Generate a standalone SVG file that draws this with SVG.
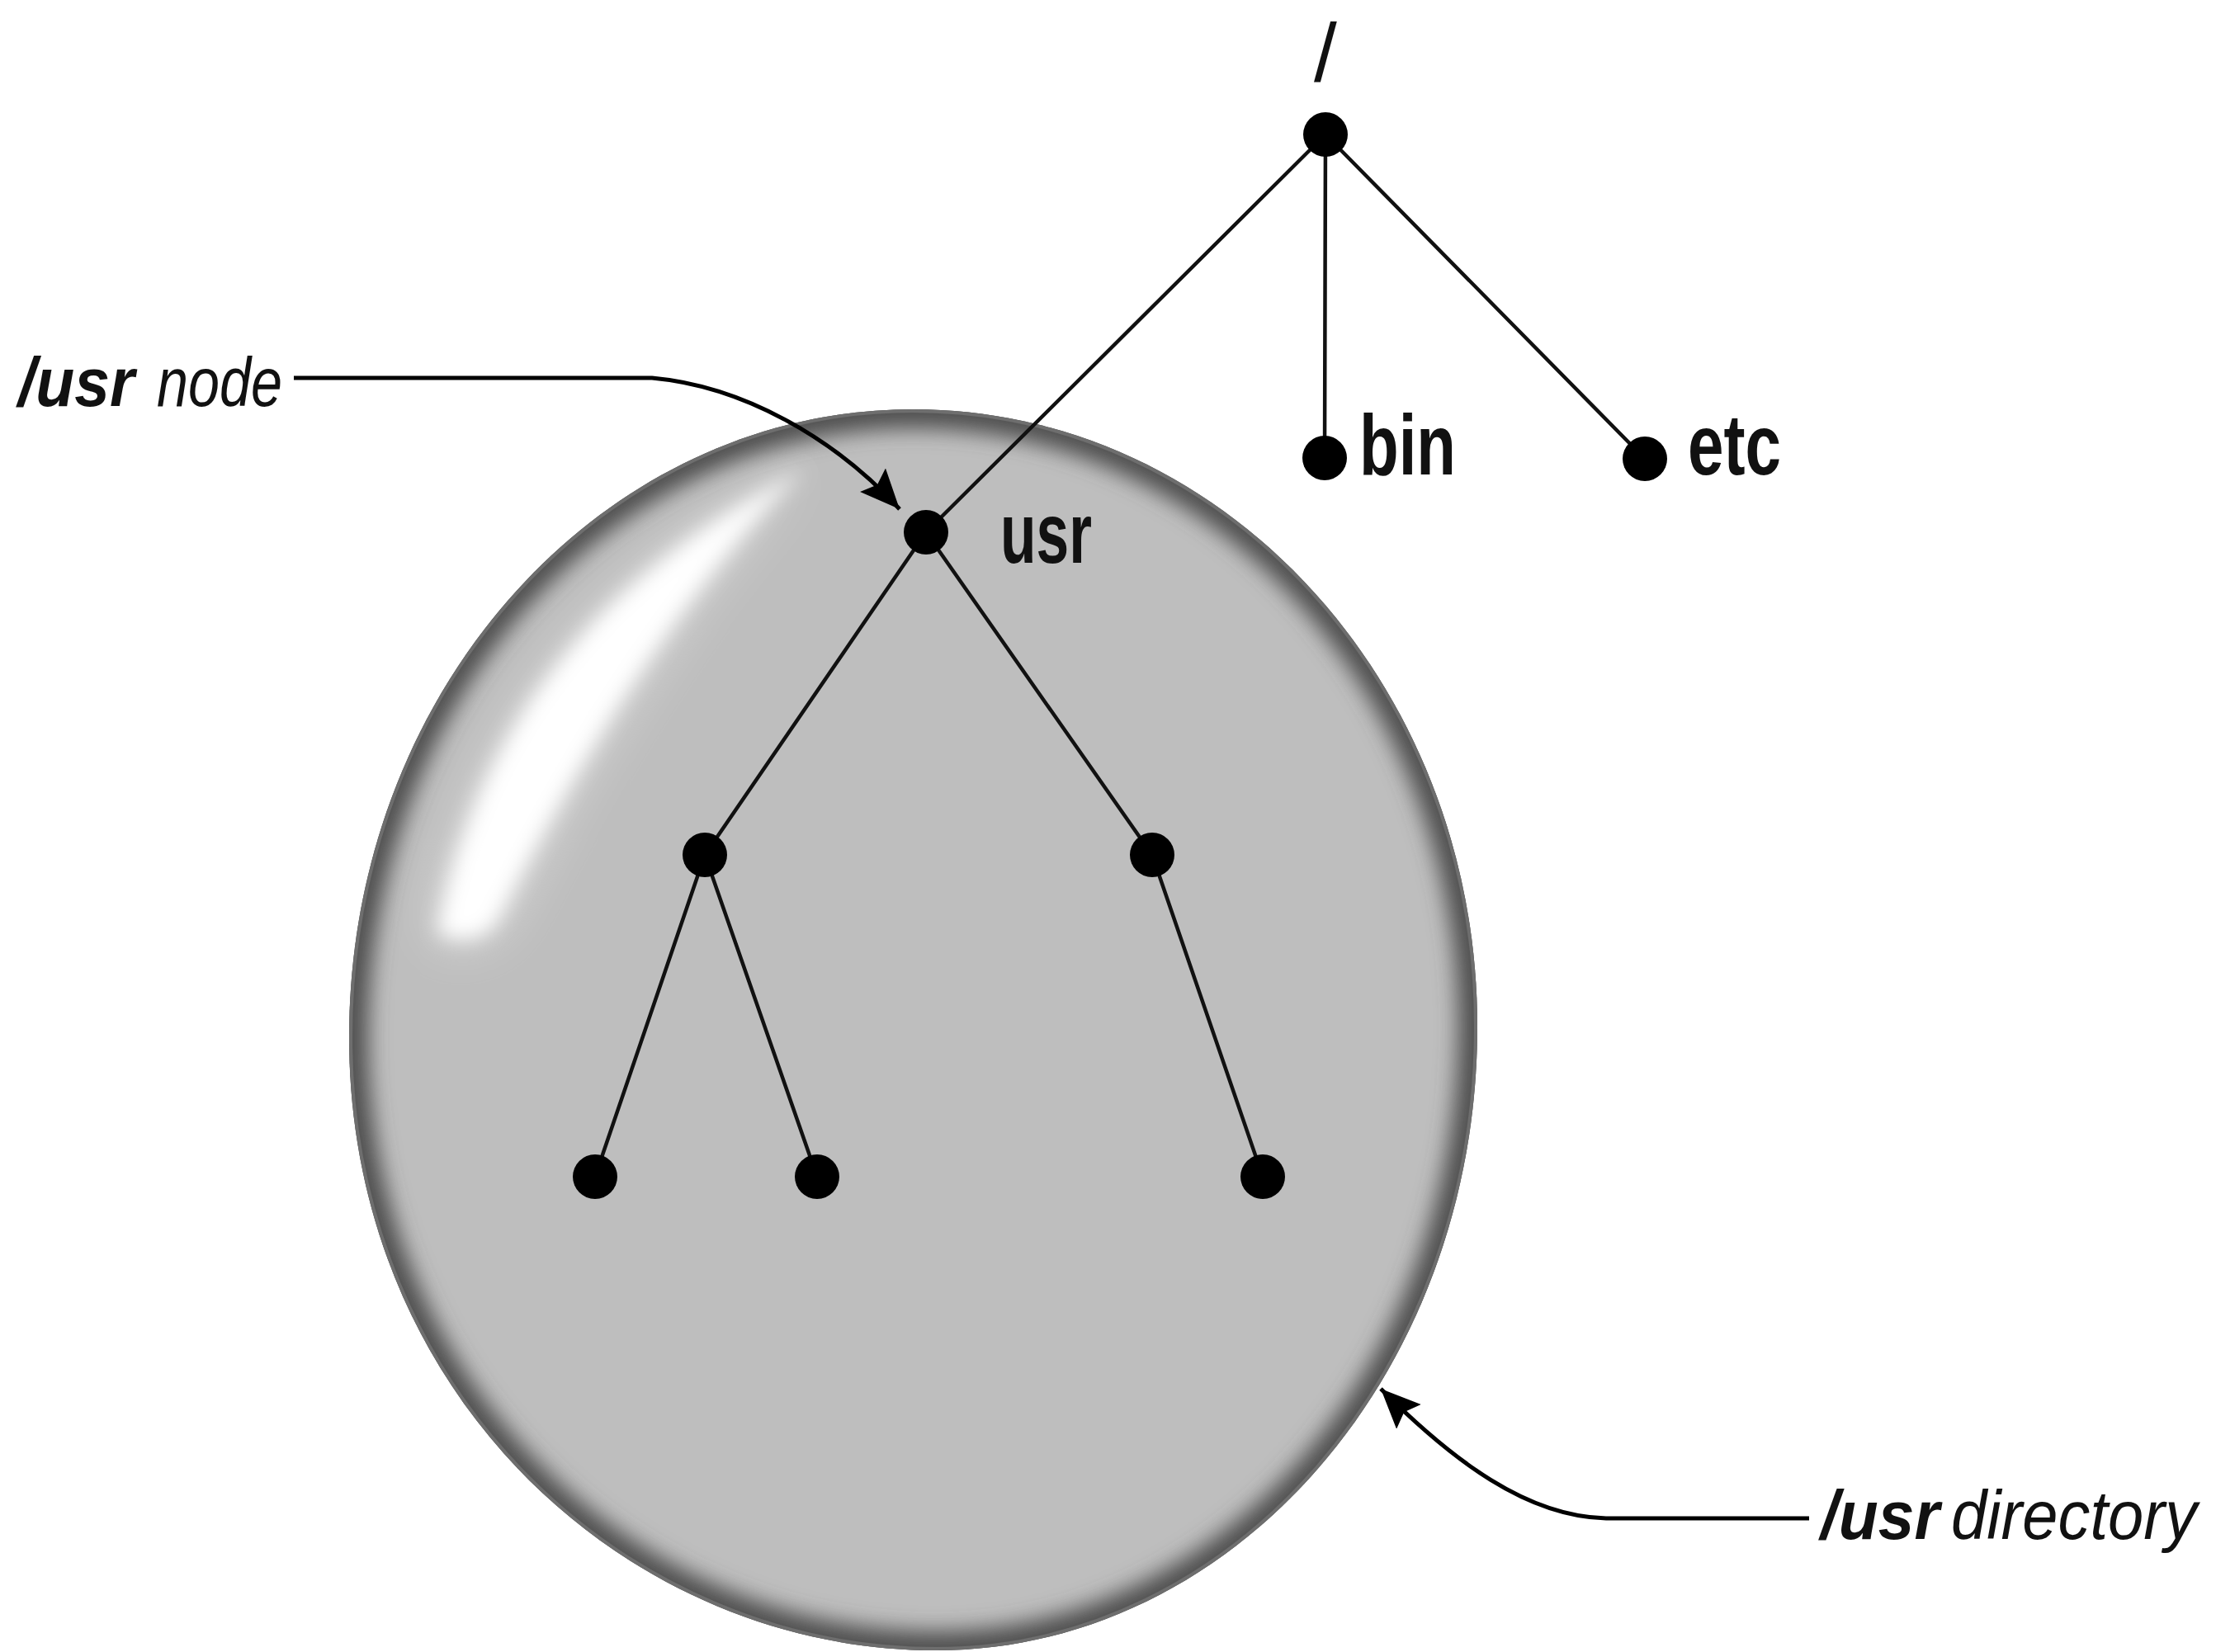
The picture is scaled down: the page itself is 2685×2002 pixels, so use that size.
<svg xmlns="http://www.w3.org/2000/svg" xmlns:xlink="http://www.w3.org/1999/xlink" width="2685" height="2002" viewBox="0 0 2685 2002">
  <style>
    .edge { stroke: #111; stroke-width: 4.5; fill: none; stroke-linecap: round; }
    .dot { fill: #000; }
    .lbl { font-family: "Liberation Sans", Arial, sans-serif; font-weight: bold; font-size: 104px; fill: #111; }
    .root { font-family: "Liberation Sans", Arial, sans-serif; font-weight: normal; font-size: 100px; fill: #111; }
    .call { font-family: "Liberation Sans", Arial, sans-serif; font-style: italic; font-size: 84px; fill: #111; }
    .b { font-weight: bold; }
    .pointer { stroke: #000; stroke-width: 5; fill: none; }
  </style>
  <defs>
    <path id="bubble" d="M 1106 496 C 1484 496 1790 831 1790 1244 C 1790 1662 1496 2000 1134 2000 C 760 2000 423 1690 423 1257 C 423 837 729 496 1106 496 Z"/>
    <clipPath id="bclip"><use xlink:href="#bubble" href="#bubble"/></clipPath>
    <filter id="rimblur" x="-10%" y="-10%" width="120%" height="120%"><feGaussianBlur stdDeviation="13"/></filter>
    <filter id="hiblur" x="-30%" y="-30%" width="160%" height="160%"><feGaussianBlur stdDeviation="12"/></filter>
    <filter id="hiblur2" x="-30%" y="-30%" width="160%" height="160%"><feGaussianBlur stdDeviation="30"/></filter>
    <marker id="arrow" markerUnits="userSpaceOnUse" markerWidth="52" markerHeight="44" refX="48" refY="21" orient="auto">
      <path d="M 0 0 L 48 21 L 0 42 L 8 21 Z" fill="#000"/>
    </marker>
  </defs>

  <rect width="2685" height="2002" fill="#ffffff"/>

  <g id="usr-directory">
    <use xlink:href="#bubble" href="#bubble" fill="#bebebe"/>
    <g clip-path="url(#bclip)">
      <use xlink:href="#bubble" href="#bubble" fill="none" stroke="#505050" stroke-width="46" filter="url(#rimblur)"/>
      <use xlink:href="#bubble" href="#bubble" fill="none" stroke="#6e6e6e" stroke-width="8"/>
      <path d="M 520 1135 Q 590 760 980 566 Q 790 760 610 1120 Q 570 1160 520 1135 Z" fill="#ffffff" opacity="0.4" filter="url(#hiblur2)"/>
      <path d="M 530 1130 Q 600 760 975 568 Q 780 760 600 1120 Q 570 1150 530 1130 Z" fill="#ffffff" filter="url(#hiblur)"/>
    </g>
  </g>

  <g id="connectors">
    <line class="edge" x1="1606" y1="163" x2="1122" y2="645"/>
    <line class="edge" x1="1606" y1="163" x2="1605" y2="555"/>
    <line class="edge" x1="1606" y1="163" x2="1993" y2="556"/>
    <line class="edge" x1="1122" y1="645" x2="854" y2="1036"/>
    <line class="edge" x1="1122" y1="645" x2="1396" y2="1036"/>
    <line class="edge" x1="854" y1="1036" x2="721" y2="1426"/>
    <line class="edge" x1="854" y1="1036" x2="990" y2="1426"/>
    <line class="edge" x1="1396" y1="1036" x2="1530" y2="1426"/>
    <path class="pointer" d="M 356 458 L 790 458 C 900 468 1010 530 1090 617" marker-end="url(#arrow)"/>
    <path class="pointer" d="M 2192 1840 L 1946 1840 C 1850 1838 1760 1770 1673 1683" marker-end="url(#arrow)"/>
  </g>

  <g id="node-root">
    <circle class="dot" cx="1606" cy="163" r="27"/>
    <text class="root" x="1592" y="99">/</text>
  </g>
  <g id="node-bin">
    <circle class="dot" cx="1605" cy="555" r="27"/>
    <text class="lbl" x="1647" y="575" textLength="117" lengthAdjust="spacingAndGlyphs">bin</text>
  </g>
  <g id="node-etc">
    <circle class="dot" cx="1993" cy="556" r="27"/>
    <text class="lbl" x="2045" y="575" textLength="113" lengthAdjust="spacingAndGlyphs">etc</text>
  </g>
  <g id="node-usr">
    <circle class="dot" cx="1122" cy="645" r="27"/>
    <text class="lbl" x="1212" y="682" textLength="111" lengthAdjust="spacingAndGlyphs">usr</text>
  </g>
  <g id="node-usr-a">
    <circle class="dot" cx="854" cy="1036" r="27"/>
  </g>
  <g id="node-usr-b">
    <circle class="dot" cx="1396" cy="1036" r="27"/>
  </g>
  <g id="node-usr-a1">
    <circle class="dot" cx="721" cy="1426" r="27"/>
  </g>
  <g id="node-usr-a2">
    <circle class="dot" cx="990" cy="1426" r="27"/>
  </g>
  <g id="node-usr-b1">
    <circle class="dot" cx="1530" cy="1426" r="27"/>
  </g>

  <g id="label-usr-node">
    <text class="call" y="492"><tspan class="b" x="22" textLength="141" lengthAdjust="spacingAndGlyphs">/usr</tspan><tspan x="190" textLength="152" lengthAdjust="spacingAndGlyphs">node</tspan></text>
  </g>
  <g id="label-usr-directory">
    <text class="call" y="1865"><tspan class="b" x="2206" textLength="144" lengthAdjust="spacingAndGlyphs">/usr</tspan><tspan x="2364" textLength="298" lengthAdjust="spacingAndGlyphs">directory</tspan></text>
  </g>
</svg>
